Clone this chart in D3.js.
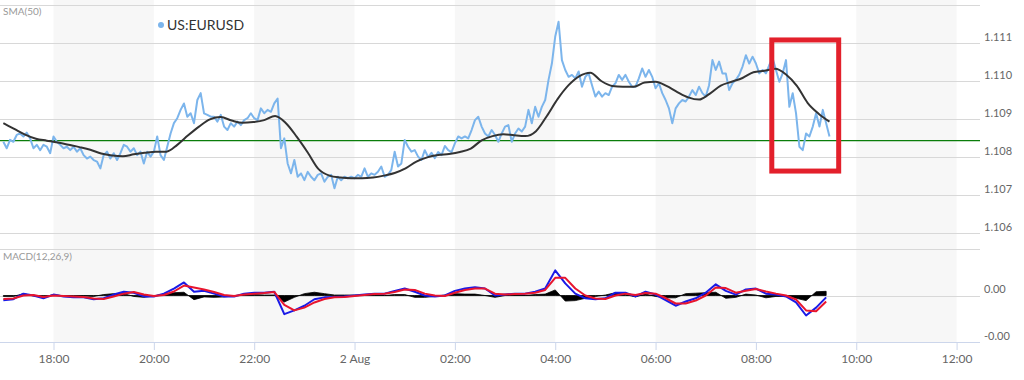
<!DOCTYPE html>
<html>
<head>
<meta charset="utf-8">
<script src="https://d3js.org/d3.v7.min.js"></script>
<style>
  body { margin: 0; background: #fff; }
  text { font-family: "Lato", "Open Sans", sans-serif; }
</style>
</head>
<body>
<svg id="chart" width="1024" height="380"></svg>
<script>
// series name and sampling
const seriesName = "US:EURUSD";
const startTime = Date.UTC(2019, 7, 1, 17, 0);
const priceStepMin = 4;
const smaStepMin = 13;
const macdStepMin = 12;

// EURUSD, one value every 4 minutes from 17:00
const price = [
  1.10840,1.10823,1.10845,1.10840,1.10858,1.10862,1.10854,1.10864,1.10849,1.10823,
  1.10832,1.10818,1.10832,1.10827,1.10810,1.10854,1.10840,1.10832,1.10823,1.10827,
  1.10818,1.10827,1.10814,1.10823,1.10805,1.10796,1.10801,1.10792,1.10788,1.10770,
  1.10805,1.10814,1.10796,1.10810,1.10792,1.10810,1.10832,1.10827,1.10814,1.10823,
  1.10805,1.10814,1.10783,1.10814,1.10801,1.10814,1.10854,1.10805,1.10792,1.10827,
  1.10862,1.10889,1.10902,1.10924,1.10941,1.10906,1.10915,1.10889,1.10950,1.10968,
  1.10915,1.10911,1.10906,
  1.10906,1.10893,1.10911,1.10880,1.10871,1.10889,1.10880,1.10893,1.10884,1.10897,
  1.10902,1.10915,1.10902,1.10897,1.10928,1.10915,1.10924,1.10919,1.10941,1.10954,
  1.10823,1.10849,1.10783,1.10757,1.10792,1.10748,1.10757,1.10739,1.10761,1.10748,
  1.10739,1.10753,1.10757,1.10735,1.10748,1.10753,1.10718,1.10748,1.10739,1.10748,
  1.10744,1.10748,1.10744,1.10753,1.10748,1.10770,1.10748,1.10757,1.10753,1.10761,
  1.10775,1.10748,1.10753,1.10766,1.10814,1.10775,1.10783,1.10845,1.10827,1.10814,
  1.10818,1.10801,1.10792,
  1.10818,1.10800,1.10811,1.10797,1.10813,1.10805,1.10829,1.10818,1.10813,
  1.10836,1.10854,1.10849,1.10854,1.10849,1.10871,1.10897,1.10906,1.10880,1.10862,
  1.10854,1.10871,1.10858,1.10840,1.10862,1.10880,1.10884,1.10840,1.10862,1.10875,
  1.10867,1.10880,1.10924,1.10889,1.10932,1.10906,1.10932,1.10950,1.11003,1.11046,
  1.11117,1.11156,1.11055,1.11029,1.11011,1.11016,1.11007,1.11025,1.10985,1.11011,
  1.11020,1.10989,1.10959,1.10972,1.10959,1.10968,1.10963,1.10985,1.10994,1.11016,
  1.11003,1.11016,1.10998,1.10985,
  1.10985,1.11007,1.11033,1.11011,1.11029,1.11011,1.10981,1.10994,1.10968,1.10950,
  1.10928,1.10889,1.10928,1.10941,1.10950,1.10946,1.10959,1.10976,1.10963,1.10985,
  1.10968,1.10959,1.10989,1.11055,1.11029,1.11051,1.11020,1.11020,1.10976,1.10994,
  1.11003,1.11016,1.11038,1.11068,1.11046,1.11064,1.11046,1.11020,1.11029,1.11020,
  1.11042,1.11060,1.11029,1.10998,1.11020,1.11055,1.10932,1.10968,1.10915,1.10827,
  1.10818,1.10862,1.10854,1.10880,1.10915,1.10880,1.10924,1.10889,1.10854
];

// SMA(50), one value every 13 minutes from 17:00
const sma50 = [
  1.10889,1.10874,1.10859,1.10848,1.10843,1.10838,1.10832,1.10826,1.10819,1.10809,
  1.10804,1.10802,1.10807,1.10811,1.10814,1.10814,1.10832,1.10857,1.10880,1.10899,
  1.10905,1.10896,1.10890,1.10892,1.10897,1.10908,1.10889,1.10853,1.10812,1.10768,
  1.10751,1.10746,1.10744,1.10744,1.10746,1.10751,1.10758,1.10770,1.10788,1.10799,
  1.10805,1.10808,1.10813,1.10822,1.10844,1.10855,1.10860,1.10857,1.10855,1.10868,
  1.10908,1.10953,1.10989,1.11013,1.11022,1.11000,1.10987,1.10985,1.10985,1.10996,
  1.10998,1.10987,1.10971,1.10957,1.10951,1.10967,1.10988,1.10998,1.11008,1.11023,
  1.11027,1.11032,1.11017,1.10987,1.10942,1.10914,1.10893
];

// MACD(12,26,9) in pips, one value every 12 minutes from 17:00
const macdLine = [
  -0.5,-0.4,0.2,0,-0.3,0.1,-0.1,-0.2,-0.2,-0.4,
  -0.3,0.1,0.4,0.3,-0.1,-0.1,0.2,0.75,1.4,0.4,
  0.5,0.2,-0.1,-0.1,0.2,0.3,0.3,0.4,-2.0,-1.6,
  -1.1,-0.4,-0.2,-0.16,-0.1,0,0.1,0.2,0.2,0.5,
  0.75,0.4,0,-0.1,0,0.5,0.75,0.9,0.75,0,
  0.1,0.2,0.2,0.4,0.75,2.7,1.3,0.2,-0.3,-0.4,
  -0.3,0.3,0.3,-0.1,0.4,0.1,-0.5,-1.1,-0.65,-0.3,
  0.3,1.2,0.5,0.1,0.65,0.75,0.2,0.1,-0.1,-0.75,
  -2.15,-1.3,-0.2
];
const signalLine = [
  -0.38,-0.32,0,0.05,-0.16,0,-0.05,-0.1,-0.16,-0.32,
  -0.38,-0.1,0.2,0.38,0.1,-0.05,0.05,0.43,1.07,0.86,
  0.65,0.38,0.05,-0.05,0.1,0.2,0.27,0.38,-1.0,-1.6,
  -1.3,-0.75,-0.38,-0.2,-0.16,-0.05,0.05,0.16,0.2,0.38,
  0.65,0.6,0.2,0,-0.05,0.3,0.6,0.75,0.75,0.2,
  0.1,0.16,0.2,0.3,0.6,1.9,1.9,0.75,0,-0.32,
  -0.38,0,0.2,0.05,0.27,0.2,-0.27,-0.86,-0.86,-0.54,
  0,0.86,0.8,0.3,0.5,0.7,0.43,0.2,0,-0.43,
  -1.6,-1.7,-0.65
];
const histogram = [
  -0.1,-0.1,0.2,-0.05,-0.15,0.1,-0.05,-0.1,-0.05,-0.1,
  0.1,0.2,0.2,-0.1,-0.2,-0.05,0.15,0.3,0.35,-0.45,
  -0.15,-0.2,-0.15,-0.05,0.1,0.1,0.05,0.05,-0.7,-0.2,
  0.2,0.35,0.2,0.05,0.05,0.05,0.05,0.05,0,0.1,
  0.1,-0.2,-0.2,-0.1,0.05,0.2,0.15,0.15,0,-0.2,
  0,0.05,0,0.1,0.15,0.6,-0.6,-0.55,-0.3,-0.1,
  0.05,0.3,0.1,-0.15,0.15,-0.1,-0.25,-0.25,0.2,0.25,
  0.3,0.35,-0.3,-0.2,0.15,0.05,-0.25,-0.1,-0.1,-0.3,
  -0.55,0.4,0.45
];

const refLevel = 1.10843;
const priceTicks = [1.106, 1.107, 1.108, 1.109, 1.110, 1.111, 1.112];
const macdTicks = [-5, 0, 5];
const macdLabelTicks = [-5, 0];
const timeDomain = ["2019-08-01T16:56:00Z", "2019-08-02T12:28:00Z"];
const timeTicks = ["2019-08-01T18:00:00Z","2019-08-01T20:00:00Z","2019-08-01T22:00:00Z",
  "2019-08-02T00:00:00Z","2019-08-02T02:00:00Z","2019-08-02T04:00:00Z","2019-08-02T06:00:00Z",
  "2019-08-02T08:00:00Z","2019-08-02T10:00:00Z","2019-08-02T12:00:00Z"];
const tickLabels = ["18:00","20:00","22:00","2 Aug","02:00","04:00","06:00","08:00","10:00","12:00"];
// highlighted box: [from, to, low, high]
const highlight = ["2019-08-02T08:19:00Z", "2019-08-02T09:39:00Z", 1.10763, 1.11108];

var svg = d3.select("#chart");
var plotRight = 980;

var x = d3.scaleUtc()
  .domain(timeDomain.map(d => new Date(d)))
  .range([0, plotRight]);

var y = d3.scaleLinear()
  .domain([1.106, 1.112])
  .range([233, 5]);

var ym = d3.scaleLinear()
  .domain([-5, 5])
  .range([342, 249]);

function timeAt(i, step) { return new Date(startTime + i * step * 60000); }

// alternating background bands
var tt = timeTicks.map(d => new Date(d));
var bands = [];
for (var i = 0; i < tt.length - 1; i += 2) bands.push([tt[i], tt[i + 1]]);
svg.append("g").selectAll("rect").data(bands).enter().append("rect")
  .attr("x", d => x(d[0]))
  .attr("width", d => x(d[1]) - x(d[0]))
  .attr("y", 0)
  .attr("height", 342)
  .attr("fill", "#f7f7f7");

// price grid
svg.append("g").selectAll("line").data(priceTicks).enter().append("line")
  .attr("x1", 0).attr("x2", plotRight)
  .attr("y1", d => Math.round(y(d)) + 0.5).attr("y2", d => Math.round(y(d)) + 0.5)
  .attr("stroke", "#d8d8d8");

svg.append("g").selectAll("text").data(priceTicks.slice(0, -1)).enter().append("text")
  .attr("x", 984)
  .attr("y", d => y(d) - 2.5)
  .attr("font-size", 11)
  .attr("fill", "#666")
  .text(d => d3.format(".3f")(d));

// macd grid
svg.append("g").selectAll("line").data(macdTicks).enter().append("line")
  .attr("x1", 0).attr("x2", plotRight)
  .attr("y1", d => Math.round(ym(d)) + 0.5).attr("y2", d => Math.round(ym(d)) + 0.5)
  .attr("stroke", "#d8d8d8");

svg.append("g").selectAll("text").data(macdLabelTicks).enter().append("text")
  .attr("x", 984)
  .attr("y", d => ym(d) - 2.5)
  .attr("font-size", 11)
  .attr("fill", "#666")
  .text(d => (d * 1e-4).toFixed(2));

// x axis
var xAxis = d3.axisBottom(x)
  .tickValues(tt)
  .tickSize(8)
  .tickFormat((d, i) => tickLabels[i]);
var gx = svg.append("g")
  .attr("transform", "translate(0,342)")
  .call(xAxis);
gx.select(".domain").attr("stroke", "#ccd6eb").attr("d", "M0,0.5H" + plotRight);
gx.selectAll(".tick line").attr("stroke", "#ccd6eb");
gx.selectAll(".tick text")
  .attr("font-family", "Lato, 'Open Sans', sans-serif")
  .attr("font-size", 12)
  .attr("fill", "#666")
  .attr("dy", "0.95em")
  .attr("y", 10);

// reference level
svg.append("line")
  .attr("x1", 0).attr("x2", plotRight)
  .attr("y1", y(refLevel)).attr("y2", y(refLevel))
  .attr("stroke", "#0a7d0a")
  .attr("stroke-width", 1.2);

// price line
var priceLine = d3.line()
  .x((d, i) => x(timeAt(i, priceStepMin)))
  .y(d => y(d));
svg.append("path")
  .datum(price)
  .attr("d", priceLine)
  .attr("fill", "none")
  .attr("stroke", "#7cb5ec")
  .attr("stroke-width", 2)
  .attr("stroke-linejoin", "round");

// sma
var smaLine = d3.line()
  .curve(d3.curveMonotoneX)
  .x((d, i) => x(timeAt(i, smaStepMin)))
  .y(d => y(d));
svg.append("path")
  .datum(sma50)
  .attr("d", smaLine)
  .attr("fill", "none")
  .attr("stroke", "#333")
  .attr("stroke-width", 2);

// macd histogram
var histArea = d3.area()
  .x((d, i) => x(timeAt(i, macdStepMin)))
  .y0(ym(0))
  .y1(d => ym(d));
svg.append("path")
  .datum(histogram)
  .attr("d", histArea)
  .attr("fill", "#000")
  .attr("stroke", "#000")
  .attr("stroke-width", 0.8);

var macdPath = d3.line()
  .x((d, i) => x(timeAt(i, macdStepMin)))
  .y(d => ym(d));
svg.append("path")
  .datum(macdLine)
  .attr("d", macdPath)
  .attr("fill", "none")
  .attr("stroke", "#1a1ae6")
  .attr("stroke-width", 2)
  .attr("stroke-linejoin", "round");
svg.append("path")
  .datum(signalLine)
  .attr("d", macdPath)
  .attr("fill", "none")
  .attr("stroke", "#e8152e")
  .attr("stroke-width", 2)
  .attr("stroke-linejoin", "round");

// highlight box
svg.append("rect")
  .attr("x", x(new Date(highlight[0])))
  .attr("y", y(highlight[3]))
  .attr("width", x(new Date(highlight[1])) - x(new Date(highlight[0])))
  .attr("height", y(highlight[2]) - y(highlight[3]))
  .attr("fill", "none")
  .attr("stroke", "#e3202b")
  .attr("stroke-width", 5);

// labels
svg.append("text")
  .attr("x", 3).attr("y", 15)
  .attr("font-size", 10)
  .attr("fill", "#999")
  .text("SMA(50)");

svg.append("text")
  .attr("x", 3).attr("y", 260)
  .attr("font-size", 10)
  .attr("fill", "#999")
  .text("MACD(12,26,9)");

svg.append("circle")
  .attr("cx", 161).attr("cy", 25)
  .attr("r", 3)
  .attr("fill", "#7cb5ec");
svg.append("text")
  .attr("x", 167).attr("y", 30)
  .attr("font-size", 14)
  .attr("fill", "#333")
  .text(seriesName);
</script>
</body>
</html>
